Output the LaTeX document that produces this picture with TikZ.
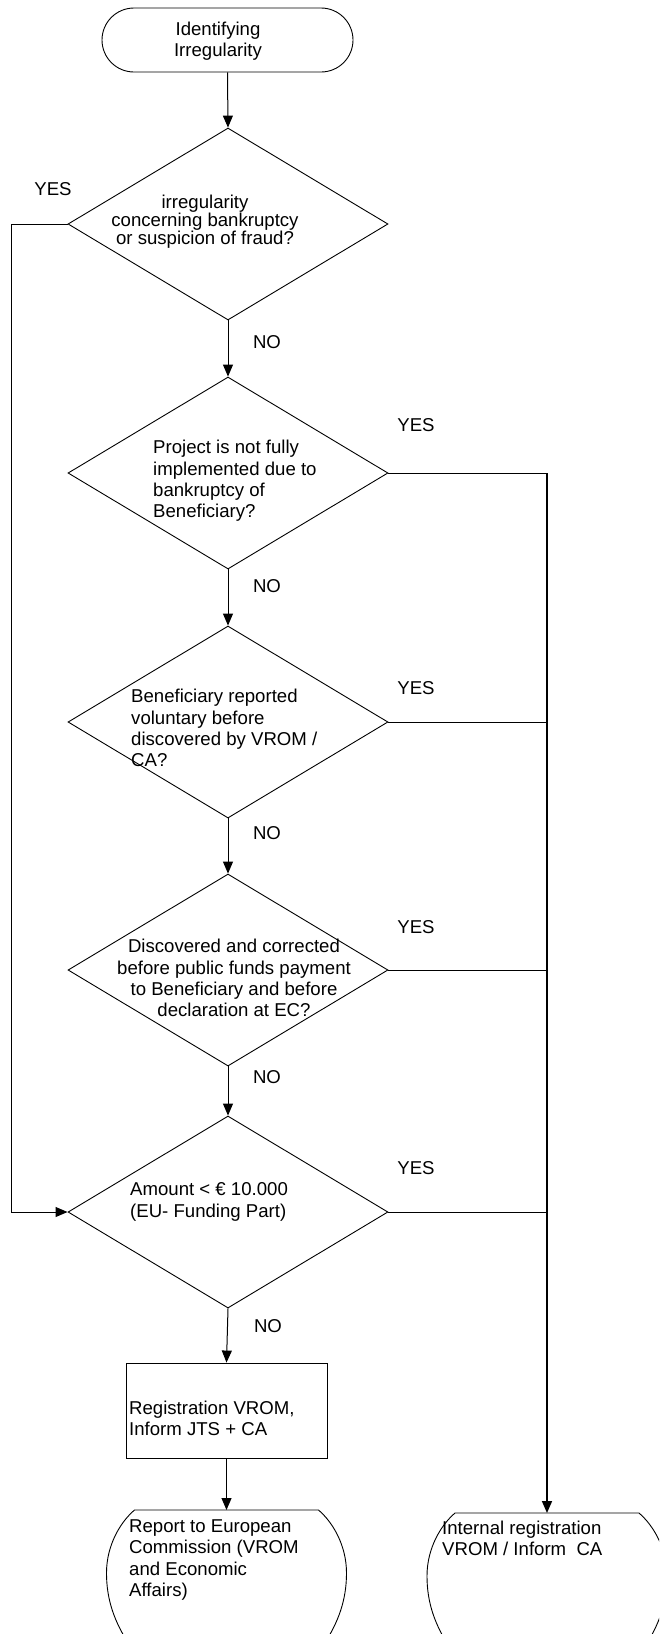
\documentclass[tikz,border=0pt]{standalone}
\usepackage{fontspec}
\setmainfont{Liberation Sans}
\usetikzlibrary{arrows.meta,shapes.geometric,shapes.misc}
\tikzset{
	decision/.style={draw,diamond,line width=0.9pt,minimum width=320pt,minimum height=192pt,inner sep=0pt},
	terminal/.style={draw,rounded rectangle,line width=0.9pt,minimum width=251pt,minimum height=64pt,inner sep=0pt},
	process/.style={draw,rectangle,line width=0.9pt,minimum width=201pt,minimum height=95pt,inner sep=0pt},
	txt/.style={inner sep=0pt,font=\fontsize{18.6}{21.3}\selectfont},
	lbl/.style={inner sep=0pt,font=\fontsize{18.6}{21.3}\selectfont},
	endline/.style={line width=0.9pt},
	arr/.style={line width=1pt,-{Triangle[length=12pt,width=10pt]}},
	link/.style={line width=1pt},
	trunk/.style={line width=1.6pt,-{Triangle[length=12pt,width=10pt]}}
}
\begin{document}
\begin{tikzpicture}[x=1pt,y=-1pt]
	\clip (0,0) rectangle (659,1634);
	\node[terminal] (start) at (227.5,40) {};
	\node[txt,align=center] (starttxt) at (218,41) {Identifying\\Irregularity};
	\node[decision] (d1) at (228,224) {};
	\node[txt,align=center,font=\fontsize{18.6}{18}\selectfont] (d1txt) at (205,222) {irregularity\\concerning bankruptcy\\or suspicion of fraud?};
	\node[decision] (d2) at (228,473) {};
	\node[txt,align=left,anchor=west] (d2txt) at (153,481) {Project is not fully\\implemented due to\\bankruptcy of\\Beneficiary?};
	\node[decision] (d3) at (228,722) {};
	\node[txt,align=left,anchor=west] (d3txt) at (131,728) {Beneficiary reported\\voluntary before\\discovered by VROM /\\CA?};
	\node[decision] (d4) at (228,970) {};
	\node[txt,align=center] (d4txt) at (234,978) {Discovered and corrected\\before public funds payment\\to Beneficiary and before\\declaration at EC?};
	\node[decision] (d5) at (228,1212) {};
	\node[txt,align=left,anchor=west] (d5txt) at (130,1202) {Amount < € 10.000\\(EU- Funding Part)};
	\node[process] (reg) at (226.5,1410.5) {};
	\node[txt,align=left,anchor=west] (regtxt) at (129,1418) {Registration VROM,\\Inform JTS + CA};
	\draw[endline] (129.5,1645) .. controls (114.5,1622) and (106.5,1600) .. (106.5,1573) .. controls (106.5,1545) and (120.5,1522) .. (134.5,1510) -- (318.5,1510) .. controls (332.5,1522) and (346.5,1545) .. (346.5,1573) .. controls (346.5,1600) and (338.5,1622) .. (323.5,1645);
	\draw[endline] (450,1648) .. controls (435,1625) and (427,1603) .. (427,1576) .. controls (427,1548) and (441,1525) .. (455,1513) -- (639,1513) .. controls (653,1525) and (667,1548) .. (667,1576) .. controls (667,1603) and (659,1625) .. (644,1648);
	\node[txt,align=left,anchor=west] (reptxt) at (129,1560) {Report to European\\Commission (VROM\\and Economic\\Affairs)};
	\node[txt,align=left,anchor=west] (inttxt) at (442,1538) {Internal registration\\VROM / Inform\ \ CA};
	\coordinate (reptop) at (226.5,1510);
	\coordinate (inttop) at (547,1513);
	\coordinate (lx) at (11,0);
	\coordinate (rx) at (547,0);
	\node[lbl] (yes1) at (53,189) {YES};
	\node[lbl] (no1) at (267,342) {NO};
	\node[lbl] (yes2) at (416,425) {YES};
	\node[lbl] (no2) at (267,586) {NO};
	\node[lbl] (yes3) at (416,688) {YES};
	\node[lbl] (no3) at (267,833) {NO};
	\node[lbl] (yes4) at (416,927) {YES};
	\node[lbl] (no4) at (267,1077) {NO};
	\node[lbl] (yes5) at (416,1168) {YES};
	\node[lbl] (no5) at (268,1326) {NO};
	\draw[arr] (start.south) -- (d1.north);
	\draw[arr] (d1.south) -- (d2.north);
	\draw[arr] (d2.south) -- (d3.north);
	\draw[arr] (d3.south) -- (d4.north);
	\draw[arr] (d4.south) -- (d5.north);
	\draw[arr] (d5.south) -- (reg.north);
	\draw[arr] (reg.south) -- (reptop);
	\draw[arr] (d1.west) -- (d1.west -| lx) |- (d5.west);
	\draw[link] (d2.east) -- (d2.east -| rx);
	\draw[link] (d3.east) -- (d3.east -| rx);
	\draw[link] (d4.east) -- (d4.east -| rx);
	\draw[link] (d5.east) -- (d5.east -| rx);
	\draw[trunk] (d2.east -| rx) -- (inttop);
\end{tikzpicture}
\end{document}
